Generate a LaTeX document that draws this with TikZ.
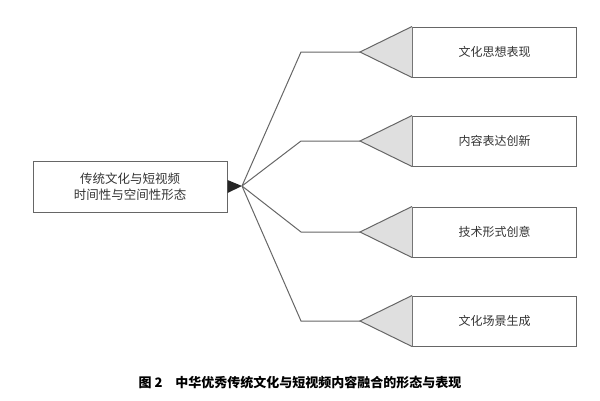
\documentclass[tikz,border=0pt]{standalone}
\usepackage{fontspec}
\setmainfont{Noto Sans CJK SC}
\usetikzlibrary{positioning,calc}
\tikzset{
	itembox/.style={draw=gray!80!black,line width=1pt,minimum width=164pt,minimum height=50pt,inner sep=0pt,font=\fontsize{12pt}{14pt}\selectfont,text=black!80},
	branch/.style={draw=gray!80!black,line width=1pt}
}
\begin{document}
\begin{tikzpicture}[x=1pt,y=-1pt]
	\useasboundingbox (0,0) rectangle (600,400);
	
	\node[itembox,minimum width=194pt,minimum height=51pt,align=center,font=\fontsize{12.5pt}{16pt}\selectfont] (root) at (130,186.5) {传统文化与短视频\\时间性与空间性形态};
	\fill[black!85] (root.east) ++(0,-6.5) -- (242,186) coordinate (hub) -- ($(root.east)+(0,6.5)$) -- cycle;
	
	\foreach \i/\y/\txt in {1/52/文化思想表现,2/141/内容表达创新,3/232/技术形式创意,4/321/文化场景生成}
	{
		\node[itembox,anchor=west] (item\i) at (412,\y) {\txt};
		\coordinate (tip\i) at (360,\y);
		\coordinate (bend\i) at (301,\y);
		\fill[gray!25] (item\i.north west) -- (tip\i) -- (item\i.south west) -- cycle;
		\draw[branch,line join=miter] (item\i.north west) -- (tip\i) -- (item\i.south west);
		\draw[branch] (hub) -- (bend\i) -- (tip\i);
	}
	
	\node[font=\bfseries\fontsize{13pt}{15pt}\selectfont] (caption) at (300,383) {图 2\quad 中华优秀传统文化与短视频内容融合的形态与表现};
\end{tikzpicture}
\end{document}
